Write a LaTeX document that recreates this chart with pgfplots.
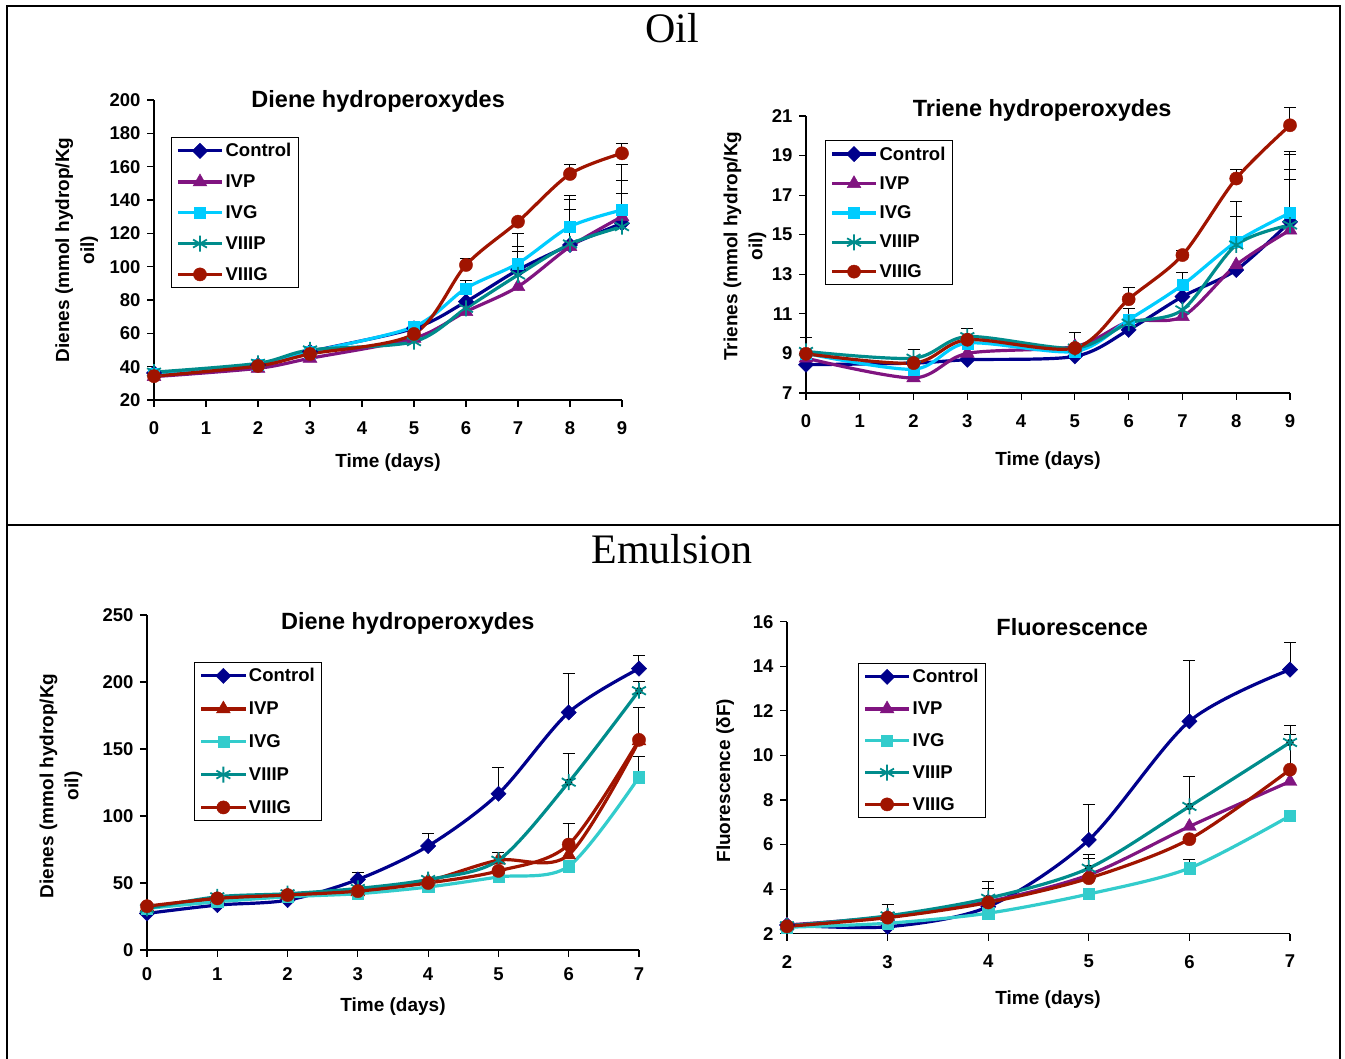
\documentclass[border=0pt]{standalone}
\usepackage{fontspec}
\setmainfont{Liberation Sans}
\newfontfamily\headserif{Liberation Serif}
\usepackage{pgfplots}
\usepackage{pgfplotstable}
\pgfplotsset{compat=1.18}

\definecolor{cctrl}{RGB}{0,0,140}
\definecolor{cpurple}{RGB}{128,20,128}
\definecolor{ccyan}{RGB}{0,204,255}
\definecolor{cturq}{RGB}{51,204,204}
\definecolor{cteal}{RGB}{0,140,140}
\definecolor{cred}{RGB}{160,20,0}

% oil, dienes
\pgfplotstableread{
d ctrl ivp ivg viiip viiig
0 36.2 34 36 36.7 34.3
2 41 39 41 42 40.4
3 49 45 48.7 50 47.6
5 63 57 64 55 59.6
6 79 73 87 75 101
7 98 88 102 95 127
8 113 112 124 113.6 155.6
9 126 130 134 124 168
}\oildienes
% oil, trienes
\pgfplotstableread{
d ctrl ivp ivg viiip viiig
0 8.43 8.76 9.0 9.1 8.98
2 8.51 7.76 8.2 8.76 8.51
3 8.68 9.0 9.52 9.85 9.69
5 8.85 9.35 9.1 9.27 9.27
6 10.19 10.6 10.7 10.53 11.74
7 11.87 10.86 12.46 11.2 13.97
8 13.22 13.47 14.64 14.48 17.84
9 15.65 15.23 16.1 15.49 20.53
}\oiltrienes
% emulsion, dienes
\pgfplotstableread{
d ctrl ivp ivg viiip viiig
0 27.3 32 31 31 32.7
1 33.5 38.4 36 39.7 38.5
2 37.2 41 39.7 42 41
3 52.6 43.4 42 45.9 43.9
4 77.6 51.6 47 52.6 50
5 116.6 67 54.5 67 59
6 177.3 71 62.5 125.2 78.7
7 210 156 129 193.5 156.8
}\emudienes
% emulsion, fluorescence
\pgfplotstableread{
d ctrl ivp ivg viiip viiig
2 2.39 2.39 2.29 2.35 2.33
3 2.31 2.76 2.47 2.8 2.72
4 3.21 3.44 2.92 3.59 3.4
5 6.21 4.64 3.78 4.94 4.49
6 11.53 6.81 4.94 7.71 6.24
7 13.85 8.83 7.29 10.58 9.36
}\emufluo

\pgfplotsset{
  panel/.style={
    scale only axis, clip=false, enlargelimits=false,
    axis x line=bottom, axis y line=left,
    axis line style={-, line width=1.1pt, black},
    tick align=outside, major tick length=7pt,
    every tick/.style={black, line width=1.1pt},
    tick label style={font=\bfseries\fontsize{18.5}{20}\selectfont},
    xticklabel style={yshift=-11pt},
    yticklabel style={xshift=-3pt},
    /pgf/number format/assume math mode=true,
    label style={font=\bfseries\fontsize{19}{25}\selectfont, anchor=center},
    ylabel style={align=center},
    title style={font=\bfseries\fontsize{23.5}{26}\selectfont, anchor=center},
    xlabel={Time (days)},
    legend cell align=left,
    legend entries={Control,IVP,IVG,VIIIP,VIIIG},
    legend style={anchor=north west, draw=black, line width=1.1pt,
      font=\bfseries\fontsize{18.5}{21}\selectfont, row sep=12pt,
      inner xsep=5pt, inner ysep=4pt},
    legend image code/.code={\draw[mark repeat=2,mark phase=2] plot coordinates {(0pt,0pt) (22pt,0pt) (44pt,0pt)};},
    every axis plot/.append style={line width=3.2pt, smooth},
  },
  sctrl/.style={cctrl, mark=square*, mark size=5.4pt, mark options={solid, rotate=45, line width=0.4pt}},
  sivp/.style={#1, mark=triangle*, mark size=8pt, mark options={solid, line width=0.4pt}},
  sivg/.style={#1, mark=square*, mark size=5.6pt, mark options={solid, line width=0.4pt}},
  sviiip/.style={cteal, mark=asterisk, mark size=8pt, mark options={solid, line width=1.8pt}},
  sviiig/.style={cred, mark=*, mark size=6.6pt, mark options={solid, line width=0.4pt}},
  errs/.style={forget plot, black, only marks, mark=none,
    error bars/.cd, y dir=plus, y explicit,
    error bar style={line width=1pt, black},
    error mark options={rotate=90, mark size=6pt, line width=1pt, black}},
}

\begin{document}
\begin{tikzpicture}
\useasboundingbox (0pt,0pt) rectangle (1345pt,1059pt);
% frame
\draw[line width=1.2pt] (7pt,0pt) -- (7pt,1053pt);
\draw[line width=1.5pt] (1340pt,0pt) -- (1340pt,1053pt);
\draw[line width=2.2pt] (6pt,1053pt) -- (1341pt,1053pt);
\draw[line width=2.4pt] (6pt,534pt) -- (1341pt,534pt);
\node[font=\headserif\fontsize{42}{44}\selectfont] at (672pt,1031pt) {Oil};
\node[font=\headserif\fontsize{42}{44}\selectfont] at (672pt,510pt) {Emulsion};

% Oil: dienes
\begin{axis}[panel, at={(154pt,659pt)}, anchor=south west, width=468pt, height=300pt,
  xmin=0, xmax=9, ymin=20, ymax=200, xtick={0,...,9}, ytick={20,40,...,200},
  title={Diene hydroperoxydes}, title style={at={(axis description cs:0.479,0.976)}},
  ylabel={Dienes (mmol hydrop/Kg\\oil)}, ylabel style={at={(axis description cs:-0.165,0.5)}},
  xlabel style={at={(axis description cs:0.5,-0.207)}},
  legend style={at={(axis description cs:0.036,0.877)}, row sep=12.5pt}]
\addplot[errs] coordinates {
  (6,101) +- (0,4) (6,87) +- (0,4.6) (7,127) +- (0,2) (7,102) +- (0,18)
  (7,98) +- (0,14) (7,88) +- (0,21) (8,155.6) +- (0,5.4) (8,124) +- (0,18.4)
  (8,113) +- (0,27) (8,112) +- (0,22) (9,168) +- (0,5.6) (9,134) +- (0,27)
  (9,126) +- (0,25.6) (9,130) +- (0,13.6)};
\addplot[sctrl] table[x=d, y=ctrl] {\oildienes};
\addplot[sivp=cpurple] table[x=d, y=ivp] {\oildienes};
\addplot[sivg=ccyan] table[x=d, y=ivg] {\oildienes};
\addplot[sviiip] table[x=d, y=viiip] {\oildienes};
\addplot[sviiig] table[x=d, y=viiig] {\oildienes};
\end{axis}

% Oil: trienes
\begin{axis}[panel, at={(806pt,666pt)}, anchor=south west, width=484pt, height=277pt,
  xmin=0, xmax=9, ymin=7, ymax=21, xtick={0,...,9}, ytick={7,9,...,21},
  title={Triene hydroperoxydes}, title style={at={(axis description cs:0.488,1.0)}},
  ylabel={Trienes (mmol hydrop/Kg\\oil)}, ylabel style={at={(axis description cs:-0.126,0.53)}},
  xlabel style={at={(axis description cs:0.5,-0.245)}},
  legend style={at={(axis description cs:0.039,0.913)}, row sep=11pt}]
\addplot[errs] coordinates {
  (0,9.1) +- (0,0.72) (2,8.51) +- (0,0.67) (3,9.85) +- (0,0.43) (5,9.27) +- (0,0.79)
  (6,11.74) +- (0,0.61) (6,10.7) +- (0,0.59) (7,13.97) +- (0,0.23) (7,12.46) +- (0,0.62)
  (8,17.84) +- (0,0.46) (8,14.64) +- (0,2.02) (8,14.48) +- (0,1.42)
  (9,20.53) +- (0,0.92) (9,16.1) +- (0,3.08) (9,15.65) +- (0,3.42)
  (9,15.49) +- (0,2.81) (9,15.23) +- (0,2.57)};
\addplot[sctrl] table[x=d, y=ctrl] {\oiltrienes};
\addplot[sivp=cpurple] table[x=d, y=ivp] {\oiltrienes};
\addplot[sivg=ccyan] table[x=d, y=ivg] {\oiltrienes};
\addplot[sviiip] table[x=d, y=viiip] {\oiltrienes};
\addplot[sviiig] table[x=d, y=viiig] {\oiltrienes};
\end{axis}

% Emulsion: dienes
\begin{axis}[panel, at={(147pt,109pt)}, anchor=south west, width=492pt, height=335pt,
  xmin=0, xmax=7, ymin=0, ymax=250, xtick={0,...,7}, ytick={0,50,...,250},
  xticklabel style={yshift=4pt},
  title={Diene hydroperoxydes}, title style={at={(axis description cs:0.53,0.958)}},
  ylabel={Dienes (mmol hydrop/Kg\\oil)}, ylabel style={at={(axis description cs:-0.175,0.49)}},
  xlabel style={at={(axis description cs:0.5,-0.17)}},
  legend style={at={(axis description cs:0.096,0.86)}, row sep=14.5pt}]
\addplot[errs] coordinates {
  (3,52.6) +- (0,4.9) (4,77.6) +- (0,9.7) (5,116.6) +- (0,19.8) (5,67) +- (0,6)
  (6,177.3) +- (0,29) (6,125.2) +- (0,21.1) (6,78.7) +- (0,16)
  (7,210) +- (0,9.5) (7,193.5) +- (0,6.9) (7,156.8) +- (0,23.8) (7,129) +- (0,15.3)};
\addplot[sctrl] table[x=d, y=ctrl] {\emudienes};
\addplot[sivp=cred] table[x=d, y=ivp] {\emudienes};
\addplot[sivg=cturq] table[x=d, y=ivg] {\emudienes};
\addplot[sviiip] table[x=d, y=viiip] {\emudienes};
\addplot[sviiig] table[x=d, y=viiig] {\emudienes};
\end{axis}

% Emulsion: fluorescence
\begin{axis}[panel, at={(787pt,125.3pt)}, anchor=south west, width=503pt, height=312pt,
  xmin=2, xmax=7, ymin=2, ymax=16, xtick={2,...,7}, ytick={2,4,...,16},
  title={Fluorescence}, title style={at={(axis description cs:0.567,0.964)}},
  ylabel={Fluorescence (δF)}, ylabel style={at={(axis description cs:-0.123,0.49)}},
  xlabel style={at={(axis description cs:0.519,-0.212)}},
  legend style={at={(axis description cs:0.141,0.868)}, row sep=13.5pt}]
\addplot[errs] coordinates {
  (3,2.8) +- (0,0.49) (4,3.59) +- (0,0.75) (4,3.44) +- (0,0.6)
  (5,6.21) +- (0,1.57) (5,4.94) +- (0,0.6) (5,4.64) +- (0,0.72)
  (6,11.53) +- (0,2.74) (6,7.71) +- (0,1.35) (6,4.94) +- (0,0.37)
  (7,13.85) +- (0,1.23) (7,10.58) +- (0,0.75) (7,9.36) +- (0,1.57)};
\addplot[sctrl] table[x=d, y=ctrl] {\emufluo};
\addplot[sivp=cpurple] table[x=d, y=ivp] {\emufluo};
\addplot[sivg=cturq] table[x=d, y=ivg] {\emufluo};
\addplot[sviiip] table[x=d, y=viiip] {\emufluo};
\addplot[sviiig] table[x=d, y=viiig] {\emufluo};
\end{axis}
\end{tikzpicture}
\end{document}
